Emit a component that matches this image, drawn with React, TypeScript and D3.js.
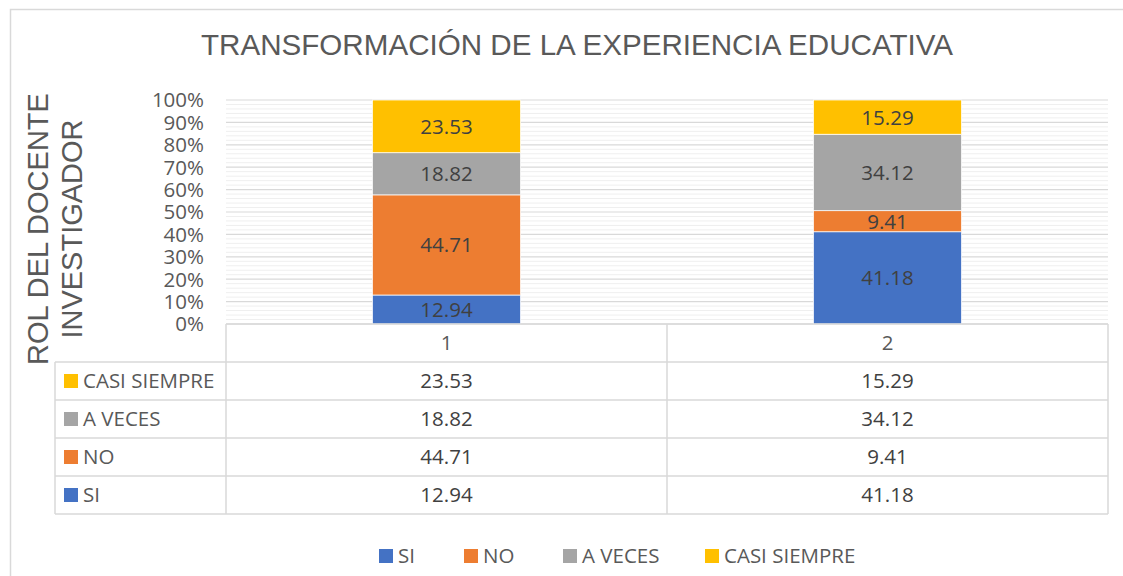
import React from "react";
import * as d3 from "d3";

const categories = ["1", "2"];
const seriesNames = ["SI", "NO", "A VECES", "CASI SIEMPRE"];
const siValues = [12.94, 41.18];
const noValues = [44.71, 9.41];
const aVecesValues = [18.82, 34.12];
const casiSiempreValues = [23.53, 15.29];
const seriesColors = ["#4472C4", "#ED7D31", "#A5A5A5", "#FFC000"];
const yTicks = [0, 10, 20, 30, 40, 50, 60, 70, 80, 90, 100];
const title = "TRANSFORMACIÓN DE LA EXPERIENCIA EDUCATIVA";
const yTitleLines = ["ROL DEL DOCENTE", "INVESTIGADOR"];

const W = 1123;
const H = 576;
const plotL = 226;
const plotR = 1108;
const plotT = 100;
const plotB = 324;
const tableL = 55;
const rowH = 38;

const FONT = "'Open Sans', sans-serif";
const TFONT = "'Liberation Sans', Arial, sans-serif";
const FS = 20.5;

export default function App() {
  const values = [siValues, noValues, aVecesValues, casiSiempreValues];
  const x = d3.scaleBand().domain(categories).range([plotL, plotR]).padding(0);
  const y = d3.scaleLinear().domain([0, 100]).range([plotB, plotT]);
  const barW = x.bandwidth() * 0.336;

  const table = categories.map((c, i) => {
    const o: any = { cat: c };
    seriesNames.forEach((s, j) => (o[s] = values[j][i]));
    return o;
  });
  const stacked = d3.stack().keys(seriesNames)(table as any);

  const minor = d3.range(0, 101, 2).filter((v) => v % 10 !== 0);
  const rowOrder = [3, 2, 1, 0];
  const tableBottom = plotB + rowH + rowOrder.length * rowH;

  const legendX = [379, 464, 563, 705];

  return (
    <div style={{ position: "absolute", left: 0, top: 0 }}>
      <svg width={W} height={H} style={{ display: "block", background: "#fff" }}>
        <rect x={10.5} y={9.5} width={1200} height={700} fill="#fff" stroke="#d9d9d9" strokeWidth={1.5} />
        <text x={577} y={55} textAnchor="middle" fontFamily={TFONT} fontSize={29.6} fill="#595959">
          {title}
        </text>
        {yTitleLines.map((t, i) => (
          <text
            key={t}
            transform={`translate(${48 + i * 34},229) rotate(-90)`}
            textAnchor="middle"
            fontFamily={TFONT}
            fontSize={29}
            fill="#595959"
          >
            {t}
          </text>
        ))}
        {minor.map((v) => (
          <line key={"m" + v} x1={plotL} x2={plotR} y1={y(v)} y2={y(v)} stroke="#efefef" strokeWidth={1} />
        ))}
        {yTicks.map((v) => (
          <line key={"g" + v} x1={plotL} x2={plotR} y1={y(v)} y2={y(v)} stroke="#d9d9d9" strokeWidth={1.2} />
        ))}
        {yTicks.map((v) => (
          <text
            key={"t" + v}
            x={204}
            y={y(v)}
            dy="0.36em"
            textAnchor="end"
            fontFamily={FONT}
            fontSize={FS}
            fill="#595959"
          >
            {v + "%"}
          </text>
        ))}
        {stacked.map((s, j) =>
          s.map((d, i) => {
            const cx = (x(categories[i]) as number) + x.bandwidth() / 2;
            const y0 = y(d[0]);
            const y1 = y(d[1]);
            return (
              <g key={j + "-" + i}>
                <rect x={cx - barW / 2} y={y1} width={barW} height={y0 - y1} fill={seriesColors[j]} stroke="#fff" strokeWidth={0.75} />
                <text
                  x={cx}
                  y={(y0 + y1) / 2}
                  dy="0.36em"
                  textAnchor="middle"
                  fontFamily={FONT}
                  fontSize={FS}
                  fill="#404040"
                >
                  {values[j][i].toFixed(2)}
                </text>
              </g>
            );
          })
        )}
        <g stroke="#d9d9d9" strokeWidth={1.5} fill="none">
          <line x1={plotL} x2={plotR} y1={plotB} y2={plotB} />
          {rowOrder.map((_, k) => (
            <line key={"h" + k} x1={tableL} x2={plotR} y1={plotB + rowH * (k + 1)} y2={plotB + rowH * (k + 1)} />
          ))}
          <line x1={tableL} x2={plotR} y1={tableBottom} y2={tableBottom} />
          <line x1={tableL} x2={tableL} y1={plotB + rowH} y2={tableBottom} />
          <line x1={plotL} x2={plotL} y1={plotB} y2={tableBottom} />
          {categories.map((c) => (
            <line key={"v" + c} x1={(x(c) as number) + x.bandwidth()} x2={(x(c) as number) + x.bandwidth()} y1={plotB} y2={tableBottom} />
          ))}
        </g>
        {categories.map((c) => (
          <text
            key={"c" + c}
            x={(x(c) as number) + x.bandwidth() / 2}
            y={plotB + rowH / 2}
            dy="0.36em"
            textAnchor="middle"
            fontFamily={FONT}
            fontSize={FS}
            fill="#595959"
          >
            {c}
          </text>
        ))}
        {rowOrder.map((j, k) => {
          const cy = plotB + rowH * (k + 1) + rowH / 2;
          return (
            <g key={"r" + j}>
              <rect x={64} y={cy - 7} width={14} height={14} fill={seriesColors[j]} />
              <text x={83} y={cy} dy="0.36em" fontFamily={FONT} fontSize={FS} fill="#595959">
                {seriesNames[j]}
              </text>
              {categories.map((c, i) => (
                <text
                  key={c}
                  x={(x(c) as number) + x.bandwidth() / 2}
                  y={cy}
                  dy="0.36em"
                  textAnchor="middle"
                  fontFamily={FONT}
                  fontSize={FS}
                  fill="#404040"
                >
                  {values[j][i].toFixed(2)}
                </text>
              ))}
            </g>
          );
        })}
        {seriesNames.map((s, j) => (
          <g key={"l" + s}>
            <rect x={legendX[j]} y={549} width={14} height={14} fill={seriesColors[j]} />
            <text x={legendX[j] + 19} y={556} dy="0.36em" fontFamily={FONT} fontSize={FS} fill="#595959">
              {s}
            </text>
          </g>
        ))}
      </svg>
    </div>
  );
}
